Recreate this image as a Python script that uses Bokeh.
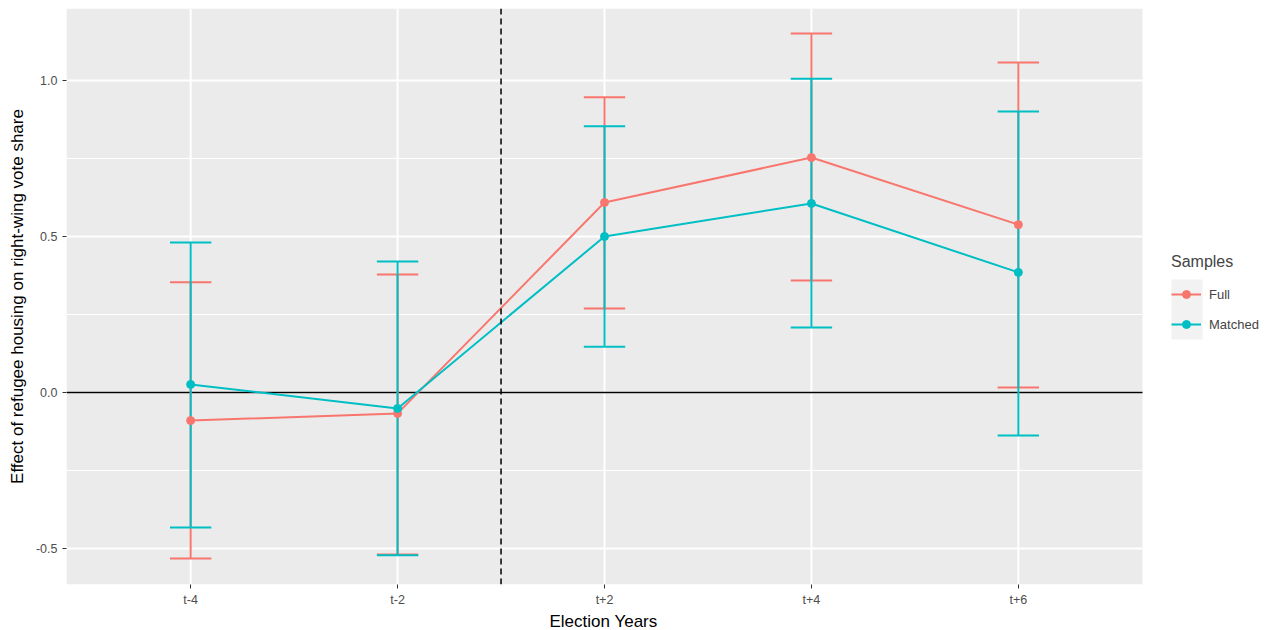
from bokeh.plotting import figure
from bokeh.models import FixedTicker, Span, Legend, LegendItem, Range1d, BoxAnnotation, Title
from bokeh.embed import file_html
from bokeh.resources import INLINE

categories = ["t-4", "t-2", "t+2", "t+4", "t+6"]
full_est = [-0.090, -0.067, 0.609, 0.753, 0.538]
full_lo = [-0.532, -0.519, 0.269, 0.359, 0.016]
full_hi = [0.353, 0.378, 0.946, 1.151, 1.058]
matched_est = [0.026, -0.051, 0.500, 0.606, 0.385]
matched_lo = [-0.433, -0.522, 0.147, 0.208, -0.138]
matched_hi = [0.481, 0.420, 0.853, 1.006, 0.901]
y_ticks = [-0.5, 0.0, 0.5, 1.0]
y_tick_labels = ["-0.5", "0.0", "0.5", "1.0"]
y_minor = [-0.25, 0.25, 0.75]

FULL_C = "#F8766D"
MATCH_C = "#00BFC4"
PANEL_C = "#EBEBEB"
FONT = "Liberation Sans"

xs = list(range(1, len(categories) + 1))
treat_pos = 2.5  # between t-2 and t+2

# layout constants (pixels / panel extents)
FRAME_W, FRAME_H = 1211, 576
PANEL_PX = 1076                       # width of the grey data panel
X0, X1 = 0.4, 5.6                     # data panel extent (ggplot expansion)
Y0, Y1 = -0.6154, 1.2308
x_end = X0 + FRAME_W * (X1 - X0) / PANEL_PX

p = figure(frame_width=FRAME_W, frame_height=FRAME_H, output_backend="svg",
           toolbar_location=None, x_range=Range1d(X0, x_end),
           y_range=Range1d(Y0, Y1),
           min_border_left=66, min_border_top=8, min_border_right=0,
           min_border_bottom=0)
p.background_fill_color = "white"
p.border_fill_color = "white"
p.outline_line_color = None
p.xgrid.grid_line_color = None
p.ygrid.grid_line_color = None

# grey data panel
p.add_layout(BoxAnnotation(left=X0, right=X1, bottom=Y0, top=Y1,
                           fill_color=PANEL_C, fill_alpha=1, line_color=None,
                           level="underlay"))

# grid lines (drawn over panel, under data)
p.segment(x0=[X0] * len(y_minor), x1=[X1] * len(y_minor), y0=y_minor, y1=y_minor,
          line_color="white", line_width=1)
p.segment(x0=[X0] * len(y_ticks), x1=[X1] * len(y_ticks), y0=y_ticks, y1=y_ticks,
          line_color="white", line_width=2)
p.segment(x0=xs, x1=xs, y0=[Y0] * len(xs), y1=[Y1] * len(xs),
          line_color="white", line_width=2)

# axes
p.xaxis.ticker = FixedTicker(ticks=xs)
p.xaxis.major_label_overrides = {x: c for x, c in zip(xs, categories)}
p.yaxis.ticker = FixedTicker(ticks=y_ticks, minor_ticks=y_minor)
p.yaxis.major_label_overrides = {t: l for t, l in zip(y_ticks, y_tick_labels)}
for ax in (p.xaxis, p.yaxis):
    ax.axis_line_color = None
    ax.major_tick_line_color = "#333333"
    ax.major_tick_out = 4
    ax.major_tick_in = 0
    ax.minor_tick_line_color = None
    ax.major_label_text_color = "#4D4D4D"
    ax.major_label_text_font = FONT
    ax.major_label_text_font_size = "12.5px"
    ax.axis_label_text_font = FONT
    ax.axis_label_text_font_size = "17px"
    ax.axis_label_text_font_style = "normal"
    ax.axis_label_text_color = "black"
p.yaxis.axis_label = "Effect of refugee housing on right-wing vote share"
p.xaxis.major_label_standoff = 4
p.yaxis.major_label_standoff = 5
p.yaxis.axis_label_standoff = 6

xtitle = Title(text="Election Years", align="left", offset=483,
               text_font=FONT, text_font_size="17px", text_font_style="normal",
               text_color="black", standoff=0)
p.add_layout(xtitle, "below")

# reference lines
p.segment(x0=[X0], x1=[X1], y0=[0], y1=[0], line_color="black", line_width=1.5)
p.add_layout(Span(location=treat_pos, dimension="height", line_color="black",
                  line_width=1.5, line_dash="6 4"))

cap = 0.1
def errorbars(lo, hi, color):
    p.segment(x0=xs, y0=lo, x1=xs, y1=hi, line_color=color, line_width=2)
    p.segment(x0=[x - cap for x in xs], y0=lo, x1=[x + cap for x in xs], y1=lo,
              line_color=color, line_width=2)
    p.segment(x0=[x - cap for x in xs], y0=hi, x1=[x + cap for x in xs], y1=hi,
              line_color=color, line_width=2)

errorbars(full_lo, full_hi, FULL_C)
errorbars(matched_lo, matched_hi, MATCH_C)

lf = p.line(xs, full_est, line_color=FULL_C, line_width=2)
lm = p.line(xs, matched_est, line_color=MATCH_C, line_width=2)
pf = p.scatter(xs, full_est, size=8, fill_color=FULL_C, line_color=FULL_C)
pm = p.scatter(xs, matched_est, size=8, fill_color=MATCH_C, line_color=MATCH_C)

# legend key background (grey column behind the legend glyphs)
px_per_x = PANEL_PX / (X1 - X0)
px_per_y = FRAME_H / (Y1 - Y0)
key_left_px, key_top_px, key_w_px, key_h_px = 1105, 271, 31, 60
p.add_layout(BoxAnnotation(left=X0 + key_left_px / px_per_x,
                           right=X0 + (key_left_px + key_w_px) / px_per_x,
                           top=Y1 - key_top_px / px_per_y,
                           bottom=Y1 - (key_top_px + key_h_px) / px_per_y,
                           fill_color="#F2F2F2", fill_alpha=1, line_color=None,
                           level="underlay"))

legend = Legend(items=[LegendItem(label="Full", renderers=[lf, pf]),
                       LegendItem(label="Matched", renderers=[lm, pm])],
                title="Samples", location=(1105, FRAME_H - 271 - 60 + 5))
legend.title_text_font = FONT
legend.title_text_font_size = "16px"
legend.title_text_font_style = "normal"
legend.title_standoff = 13
legend.label_text_font = FONT
legend.label_text_font_size = "13px"
legend.glyph_width = 30
legend.glyph_height = 20
legend.spacing = 10
legend.label_standoff = 8
legend.border_line_color = None
legend.background_fill_alpha = 0
legend.margin = 0
legend.padding = 0
p.add_layout(legend)

open("out.html", "w").write(file_html(p, INLINE))
